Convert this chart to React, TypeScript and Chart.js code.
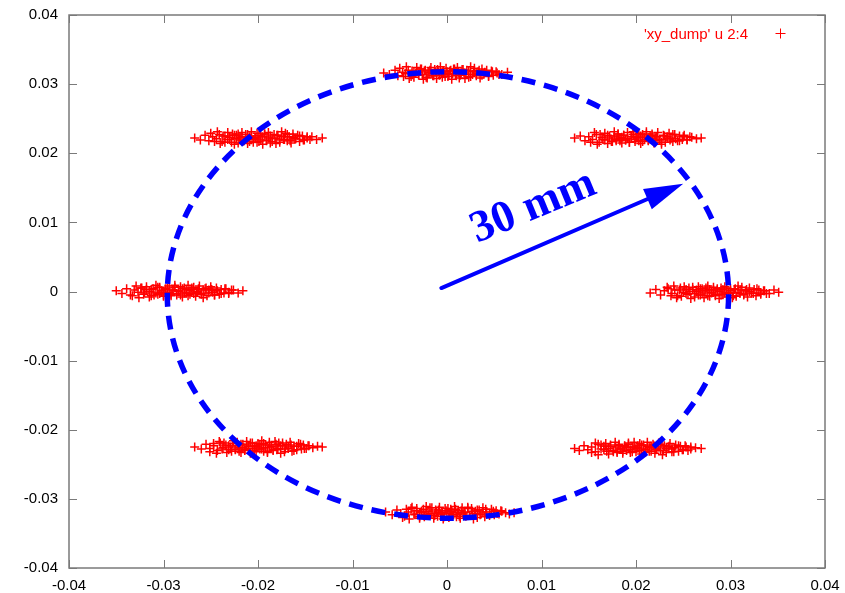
import React, { useEffect, useRef } from 'react';
import { Chart, registerables } from 'chart.js';

Chart.register(...registerables);

// ---- data (metres) ----
const TOP_X = [-0.0067,-0.0061,-0.0055,-0.0052,-0.0047,-0.0044,-0.0041,-0.0038,-0.0035,-0.0033,-0.0030,-0.0028,-0.0026,-0.0024,-0.0022,-0.0020,-0.0018,-0.0016,-0.0014,-0.0012,-0.0010,-0.0008,-0.0006,-0.0004,-0.0002,0.0000,0.0002,0.0004,0.0006,0.0008,0.0010,0.0012,0.0014,0.0016,0.0018,0.0020,0.0023,0.0025,0.0028,0.0031,0.0034,0.0037,0.0040,0.0044,0.0048,0.0053,0.0058,0.0064];
const TOP_Y = [0.0316,0.0314,0.0320,0.0312,0.0317,0.0315,0.0320,0.0311,0.0318,0.0316,0.0313,0.0322,0.0314,0.0319,0.0310,0.0317,0.0320,0.0315,0.0312,0.0318,0.0321,0.0313,0.0316,0.0319,0.0311,0.0318,0.0314,0.0320,0.0315,0.0322,0.0312,0.0317,0.0313,0.0321,0.0316,0.0314,0.0319,0.0311,0.0318,0.0315,0.0320,0.0313,0.0317,0.0312,0.0318,0.0316,0.0314,0.0317];
const TOP_X2 = [-0.0050,-0.0046,-0.0043,-0.0040,-0.0037,-0.0035,-0.0032,-0.0030,-0.0027,-0.0025,-0.0023,-0.0021,-0.0019,-0.0017,-0.0015,-0.0013,-0.0011,-0.0009,-0.0007,-0.0005,-0.0003,-0.0001,0.0001,0.0003,0.0005,0.0007,0.0009,0.0011,0.0013,0.0015,0.0017,0.0019,0.0021,0.0023,0.0025,0.0027,0.0029,0.0031,0.0033,0.0035,0.0037,0.0039,0.0042,0.0044,0.0047,0.0049,0.0052,0.0055];
const TOP_Y2 = [0.0323,0.0311,0.0325,0.0308,0.0319,0.0310,0.0324,0.0314,0.0322,0.0307,0.0320,0.0309,0.0317,0.0324,0.0312,0.0321,0.0308,0.0318,0.0325,0.0310,0.0315,0.0323,0.0311,0.0319,0.0307,0.0322,0.0313,0.0324,0.0309,0.0316,0.0321,0.0308,0.0320,0.0310,0.0325,0.0314,0.0323,0.0312,0.0318,0.0309,0.0322,0.0315,0.0320,0.0311,0.0319,0.0313,0.0318,0.0314];

const BOTTOM_X = [-0.0065,-0.0058,-0.0053,-0.0049,-0.0045,-0.0041,-0.0038,-0.0035,-0.0032,-0.0029,-0.0027,-0.0025,-0.0022,-0.0020,-0.0018,-0.0016,-0.0013,-0.0011,-0.0009,-0.0007,-0.0005,-0.0003,-0.0001,0.0001,0.0003,0.0005,0.0007,0.0009,0.0011,0.0013,0.0015,0.0017,0.0019,0.0022,0.0024,0.0027,0.0029,0.0032,0.0035,0.0038,0.0041,0.0045,0.0049,0.0053,0.0057,0.0062,0.0066,0.0071];
const BOTTOM_Y = [-0.0319,-0.0323,-0.0316,-0.0321,-0.0325,-0.0319,-0.0314,-0.0322,-0.0317,-0.0326,-0.0320,-0.0315,-0.0323,-0.0318,-0.0321,-0.0313,-0.0324,-0.0319,-0.0316,-0.0322,-0.0320,-0.0326,-0.0317,-0.0314,-0.0321,-0.0318,-0.0323,-0.0315,-0.0320,-0.0325,-0.0317,-0.0322,-0.0319,-0.0314,-0.0324,-0.0318,-0.0321,-0.0316,-0.0323,-0.0319,-0.0315,-0.0322,-0.0318,-0.0321,-0.0317,-0.0320,-0.0322,-0.0320];
const BOTTOM_X2 = [-0.0047,-0.0043,-0.0040,-0.0037,-0.0034,-0.0032,-0.0029,-0.0027,-0.0024,-0.0022,-0.0020,-0.0018,-0.0016,-0.0014,-0.0012,-0.0010,-0.0008,-0.0006,-0.0004,-0.0002,0.0000,0.0002,0.0004,0.0006,0.0008,0.0010,0.0012,0.0014,0.0016,0.0018,0.0020,0.0022,0.0024,0.0026,0.0028,0.0030,0.0032,0.0034,0.0036,0.0038,0.0040,0.0042,0.0045,0.0047,0.0050,0.0052,0.0055,0.0058];
const BOTTOM_Y2 = [-0.0327,-0.0315,-0.0329,-0.0312,-0.0323,-0.0314,-0.0328,-0.0318,-0.0326,-0.0311,-0.0324,-0.0313,-0.0321,-0.0328,-0.0316,-0.0325,-0.0312,-0.0322,-0.0329,-0.0314,-0.0319,-0.0327,-0.0315,-0.0323,-0.0311,-0.0326,-0.0317,-0.0328,-0.0313,-0.0320,-0.0325,-0.0312,-0.0324,-0.0314,-0.0329,-0.0318,-0.0327,-0.0316,-0.0322,-0.0313,-0.0326,-0.0319,-0.0324,-0.0315,-0.0323,-0.0317,-0.0322,-0.0318];

const LEFT_X = [-0.0350,-0.0344,-0.0339,-0.0335,-0.0331,-0.0327,-0.0324,-0.0321,-0.0318,-0.0315,-0.0313,-0.0311,-0.0308,-0.0306,-0.0304,-0.0302,-0.0300,-0.0298,-0.0296,-0.0294,-0.0292,-0.0290,-0.0288,-0.0286,-0.0284,-0.0282,-0.0280,-0.0278,-0.0276,-0.0274,-0.0272,-0.0270,-0.0268,-0.0265,-0.0263,-0.0260,-0.0258,-0.0255,-0.0252,-0.0249,-0.0246,-0.0243,-0.0239,-0.0235,-0.0231,-0.0226,-0.0221,-0.0216];
const LEFT_Y = [0.0001,-0.0003,0.0004,-0.0005,0.0002,-0.0001,0.0005,-0.0004,0.0003,0.0000,-0.0006,0.0004,-0.0002,0.0006,-0.0003,0.0001,-0.0005,0.0003,0.0005,-0.0001,-0.0004,0.0002,0.0006,-0.0003,0.0000,-0.0005,0.0004,-0.0002,0.0003,-0.0006,0.0001,0.0005,-0.0003,-0.0001,0.0004,-0.0004,0.0002,0.0005,-0.0002,0.0003,-0.0005,0.0001,-0.0003,0.0004,-0.0001,0.0002,-0.0002,0.0001];
const LEFT_X2 = [-0.0333,-0.0329,-0.0326,-0.0323,-0.0320,-0.0318,-0.0315,-0.0313,-0.0310,-0.0308,-0.0306,-0.0304,-0.0302,-0.0300,-0.0298,-0.0296,-0.0294,-0.0292,-0.0290,-0.0288,-0.0286,-0.0284,-0.0282,-0.0280,-0.0278,-0.0276,-0.0274,-0.0272,-0.0270,-0.0268,-0.0266,-0.0264,-0.0262,-0.0260,-0.0258,-0.0256,-0.0254,-0.0252,-0.0250,-0.0248,-0.0246,-0.0244,-0.0241,-0.0239,-0.0236,-0.0234,-0.0231,-0.0228];
const LEFT_Y2 = [-0.0006,0.0008,-0.0009,0.0005,-0.0002,0.0007,-0.0008,0.0003,-0.0005,0.0009,-0.0004,0.0006,-0.0001,-0.0007,0.0004,-0.0003,0.0008,-0.0006,0.0002,0.0009,-0.0005,0.0001,0.0007,-0.0008,0.0005,-0.0002,0.0009,-0.0004,0.0003,0.0006,-0.0007,0.0000,0.0008,-0.0003,-0.0009,0.0004,-0.0006,0.0002,0.0007,-0.0001,-0.0005,0.0005,-0.0004,0.0003,-0.0002,0.0004,-0.0003,0.0002];

const RIGHT_X = [0.0215,0.0221,0.0226,0.0230,0.0234,0.0238,0.0241,0.0244,0.0247,0.0250,0.0253,0.0255,0.0257,0.0260,0.0262,0.0264,0.0266,0.0268,0.0270,0.0272,0.0274,0.0276,0.0278,0.0280,0.0282,0.0284,0.0286,0.0288,0.0290,0.0292,0.0294,0.0296,0.0298,0.0300,0.0303,0.0305,0.0308,0.0311,0.0314,0.0317,0.0320,0.0324,0.0328,0.0332,0.0336,0.0341,0.0346,0.0351];
const RIGHT_Y = [-0.0002,0.0003,-0.0005,0.0001,0.0004,-0.0003,0.0002,-0.0006,0.0005,-0.0001,0.0003,-0.0004,0.0000,0.0006,-0.0003,0.0002,-0.0005,0.0004,-0.0002,0.0001,0.0005,-0.0006,0.0003,-0.0001,0.0002,-0.0004,0.0004,0.0000,-0.0005,0.0003,-0.0002,0.0005,-0.0003,0.0001,-0.0006,0.0004,-0.0001,0.0002,-0.0004,0.0003,0.0000,-0.0003,0.0004,-0.0002,0.0001,-0.0003,0.0002,-0.0001];
const RIGHT_X2 = [0.0233,0.0237,0.0240,0.0243,0.0246,0.0248,0.0251,0.0253,0.0256,0.0258,0.0260,0.0262,0.0264,0.0266,0.0268,0.0270,0.0272,0.0274,0.0276,0.0278,0.0280,0.0282,0.0284,0.0286,0.0288,0.0290,0.0292,0.0294,0.0296,0.0298,0.0300,0.0302,0.0304,0.0306,0.0308,0.0310,0.0312,0.0314,0.0316,0.0318,0.0320,0.0322,0.0325,0.0327,0.0330,0.0332,0.0335,0.0338];
const RIGHT_Y2 = [0.0006,-0.0006,0.0008,-0.0009,0.0002,-0.0007,0.0007,-0.0003,0.0005,-0.0010,0.0003,-0.0008,0.0000,0.0007,-0.0005,0.0004,-0.0009,0.0001,0.0008,-0.0007,-0.0002,0.0006,-0.0006,0.0002,-0.0010,0.0005,-0.0004,0.0007,-0.0008,-0.0001,0.0004,-0.0009,0.0003,-0.0007,0.0008,-0.0003,0.0006,-0.0005,0.0001,-0.0008,0.0005,-0.0002,0.0003,-0.0006,0.0002,-0.0004,0.0001,-0.0003];

const TOP_LEFT_X = [-0.0267,-0.0261,-0.0256,-0.0252,-0.0248,-0.0244,-0.0241,-0.0238,-0.0235,-0.0232,-0.0230,-0.0228,-0.0225,-0.0223,-0.0221,-0.0219,-0.0217,-0.0215,-0.0213,-0.0211,-0.0209,-0.0207,-0.0205,-0.0203,-0.0201,-0.0199,-0.0197,-0.0195,-0.0193,-0.0191,-0.0189,-0.0187,-0.0185,-0.0182,-0.0180,-0.0177,-0.0175,-0.0172,-0.0169,-0.0166,-0.0163,-0.0160,-0.0156,-0.0152,-0.0148,-0.0143,-0.0138,-0.0132];
const TOP_LEFT_Y = [0.0222,0.0219,0.0226,0.0218,0.0224,0.0221,0.0227,0.0217,0.0225,0.0220,0.0223,0.0216,0.0226,0.0221,0.0228,0.0219,0.0224,0.0218,0.0222,0.0227,0.0217,0.0225,0.0220,0.0223,0.0216,0.0226,0.0219,0.0224,0.0228,0.0218,0.0222,0.0225,0.0217,0.0221,0.0226,0.0219,0.0224,0.0220,0.0227,0.0218,0.0223,0.0221,0.0225,0.0219,0.0222,0.0224,0.0220,0.0222];
const TOP_LEFT_X2 = [-0.0250,-0.0246,-0.0243,-0.0240,-0.0237,-0.0235,-0.0232,-0.0230,-0.0227,-0.0225,-0.0223,-0.0221,-0.0219,-0.0217,-0.0215,-0.0213,-0.0211,-0.0209,-0.0207,-0.0205,-0.0203,-0.0201,-0.0199,-0.0197,-0.0195,-0.0193,-0.0191,-0.0189,-0.0187,-0.0185,-0.0183,-0.0181,-0.0179,-0.0177,-0.0175,-0.0173,-0.0171,-0.0169,-0.0167,-0.0165,-0.0163,-0.0161,-0.0158,-0.0156,-0.0153,-0.0151,-0.0148,-0.0145];
const TOP_LEFT_Y2 = [0.0229,0.0217,0.0231,0.0214,0.0225,0.0216,0.0230,0.0220,0.0228,0.0213,0.0226,0.0215,0.0223,0.0230,0.0218,0.0227,0.0214,0.0224,0.0231,0.0216,0.0221,0.0229,0.0217,0.0225,0.0213,0.0228,0.0219,0.0230,0.0215,0.0222,0.0227,0.0214,0.0226,0.0216,0.0231,0.0220,0.0229,0.0218,0.0224,0.0215,0.0228,0.0221,0.0226,0.0217,0.0225,0.0219,0.0224,0.0220];

const TOP_RIGHT_X = [0.0135,0.0141,0.0146,0.0150,0.0154,0.0158,0.0161,0.0164,0.0167,0.0170,0.0172,0.0174,0.0177,0.0179,0.0181,0.0183,0.0185,0.0187,0.0189,0.0191,0.0193,0.0195,0.0197,0.0199,0.0201,0.0203,0.0205,0.0207,0.0209,0.0211,0.0213,0.0215,0.0217,0.0220,0.0222,0.0225,0.0227,0.0230,0.0233,0.0236,0.0239,0.0242,0.0246,0.0250,0.0254,0.0259,0.0264,0.0269];
const TOP_RIGHT_Y = [0.0222,0.0225,0.0218,0.0224,0.0220,0.0227,0.0216,0.0223,0.0219,0.0226,0.0222,0.0217,0.0225,0.0220,0.0228,0.0218,0.0223,0.0226,0.0219,0.0221,0.0216,0.0224,0.0227,0.0220,0.0222,0.0218,0.0225,0.0217,0.0223,0.0228,0.0219,0.0221,0.0226,0.0218,0.0224,0.0220,0.0216,0.0225,0.0222,0.0219,0.0227,0.0221,0.0218,0.0224,0.0220,0.0223,0.0221,0.0222];
const TOP_RIGHT_X2 = [0.0152,0.0156,0.0159,0.0162,0.0165,0.0167,0.0170,0.0172,0.0175,0.0177,0.0179,0.0181,0.0183,0.0185,0.0187,0.0189,0.0191,0.0193,0.0195,0.0197,0.0199,0.0201,0.0203,0.0205,0.0207,0.0209,0.0211,0.0213,0.0215,0.0217,0.0219,0.0221,0.0223,0.0225,0.0227,0.0229,0.0231,0.0233,0.0235,0.0237,0.0239,0.0241,0.0244,0.0246,0.0249,0.0251,0.0254,0.0257];
const TOP_RIGHT_Y2 = [0.0216,0.0230,0.0213,0.0227,0.0220,0.0229,0.0214,0.0225,0.0217,0.0231,0.0218,0.0228,0.0221,0.0215,0.0226,0.0219,0.0230,0.0216,0.0224,0.0231,0.0217,0.0223,0.0229,0.0214,0.0227,0.0220,0.0231,0.0218,0.0225,0.0228,0.0215,0.0222,0.0230,0.0219,0.0213,0.0226,0.0216,0.0224,0.0229,0.0221,0.0217,0.0227,0.0218,0.0225,0.0220,0.0226,0.0219,0.0224];

const BOTTOM_LEFT_X = [-0.0267,-0.0260,-0.0255,-0.0251,-0.0247,-0.0243,-0.0240,-0.0237,-0.0234,-0.0231,-0.0229,-0.0227,-0.0224,-0.0222,-0.0220,-0.0218,-0.0216,-0.0214,-0.0212,-0.0210,-0.0208,-0.0206,-0.0204,-0.0202,-0.0200,-0.0198,-0.0196,-0.0194,-0.0192,-0.0190,-0.0188,-0.0186,-0.0184,-0.0181,-0.0179,-0.0176,-0.0174,-0.0171,-0.0168,-0.0165,-0.0162,-0.0159,-0.0155,-0.0151,-0.0147,-0.0142,-0.0137,-0.0132];
const BOTTOM_LEFT_Y = [-0.0225,-0.0228,-0.0221,-0.0227,-0.0223,-0.0230,-0.0219,-0.0226,-0.0222,-0.0229,-0.0225,-0.0220,-0.0228,-0.0223,-0.0231,-0.0221,-0.0226,-0.0229,-0.0222,-0.0224,-0.0219,-0.0227,-0.0230,-0.0223,-0.0225,-0.0221,-0.0228,-0.0220,-0.0226,-0.0231,-0.0222,-0.0224,-0.0229,-0.0221,-0.0227,-0.0223,-0.0219,-0.0228,-0.0225,-0.0222,-0.0230,-0.0224,-0.0221,-0.0227,-0.0223,-0.0226,-0.0224,-0.0225];
const BOTTOM_LEFT_X2 = [-0.0251,-0.0247,-0.0244,-0.0241,-0.0238,-0.0236,-0.0233,-0.0231,-0.0228,-0.0226,-0.0224,-0.0222,-0.0220,-0.0218,-0.0216,-0.0214,-0.0212,-0.0210,-0.0208,-0.0206,-0.0204,-0.0202,-0.0200,-0.0198,-0.0196,-0.0194,-0.0192,-0.0190,-0.0188,-0.0186,-0.0184,-0.0182,-0.0180,-0.0178,-0.0176,-0.0174,-0.0172,-0.0170,-0.0168,-0.0166,-0.0164,-0.0162,-0.0159,-0.0157,-0.0154,-0.0152,-0.0149,-0.0146];
const BOTTOM_LEFT_Y2 = [-0.0232,-0.0220,-0.0234,-0.0217,-0.0228,-0.0219,-0.0233,-0.0223,-0.0231,-0.0216,-0.0229,-0.0218,-0.0226,-0.0233,-0.0221,-0.0230,-0.0217,-0.0227,-0.0234,-0.0219,-0.0224,-0.0232,-0.0220,-0.0228,-0.0216,-0.0231,-0.0222,-0.0233,-0.0218,-0.0225,-0.0230,-0.0217,-0.0229,-0.0219,-0.0234,-0.0223,-0.0232,-0.0221,-0.0227,-0.0218,-0.0231,-0.0224,-0.0229,-0.0220,-0.0228,-0.0222,-0.0227,-0.0223];

const BOTTOM_RIGHT_X = [0.0135,0.0140,0.0145,0.0149,0.0153,0.0157,0.0160,0.0163,0.0166,0.0169,0.0171,0.0173,0.0176,0.0178,0.0180,0.0182,0.0184,0.0186,0.0188,0.0190,0.0192,0.0194,0.0196,0.0198,0.0200,0.0202,0.0204,0.0206,0.0208,0.0210,0.0212,0.0214,0.0216,0.0219,0.0221,0.0224,0.0226,0.0229,0.0232,0.0235,0.0238,0.0241,0.0245,0.0249,0.0253,0.0258,0.0263,0.0269];
const BOTTOM_RIGHT_Y = [-0.0227,-0.0230,-0.0223,-0.0229,-0.0225,-0.0232,-0.0221,-0.0228,-0.0224,-0.0231,-0.0227,-0.0222,-0.0230,-0.0225,-0.0233,-0.0223,-0.0228,-0.0231,-0.0224,-0.0226,-0.0221,-0.0229,-0.0232,-0.0225,-0.0227,-0.0223,-0.0230,-0.0222,-0.0228,-0.0233,-0.0224,-0.0226,-0.0231,-0.0223,-0.0229,-0.0225,-0.0221,-0.0230,-0.0227,-0.0224,-0.0232,-0.0226,-0.0223,-0.0229,-0.0225,-0.0228,-0.0226,-0.0227];
const BOTTOM_RIGHT_X2 = [0.0153,0.0157,0.0160,0.0163,0.0166,0.0168,0.0171,0.0173,0.0176,0.0178,0.0180,0.0182,0.0184,0.0186,0.0188,0.0190,0.0192,0.0194,0.0196,0.0198,0.0200,0.0202,0.0204,0.0206,0.0208,0.0210,0.0212,0.0214,0.0216,0.0218,0.0220,0.0222,0.0224,0.0226,0.0228,0.0230,0.0232,0.0234,0.0236,0.0238,0.0240,0.0242,0.0245,0.0247,0.0250,0.0252,0.0255,0.0258];
const BOTTOM_RIGHT_Y2 = [-0.0233,-0.0219,-0.0236,-0.0222,-0.0229,-0.0220,-0.0235,-0.0224,-0.0232,-0.0218,-0.0231,-0.0221,-0.0228,-0.0234,-0.0223,-0.0230,-0.0219,-0.0233,-0.0225,-0.0218,-0.0232,-0.0226,-0.0220,-0.0235,-0.0222,-0.0229,-0.0218,-0.0231,-0.0224,-0.0221,-0.0234,-0.0227,-0.0219,-0.0230,-0.0236,-0.0223,-0.0233,-0.0225,-0.0220,-0.0228,-0.0232,-0.0222,-0.0231,-0.0224,-0.0229,-0.0223,-0.0230,-0.0225];

const X_TICK_LABELS = ['-0.04', '-0.03', '-0.02', '-0.01', '0', '0.01', '0.02', '0.03', '0.04'];
const Y_TICK_LABELS = ['-0.04', '-0.03', '-0.02', '-0.01', '0', '0.01', '0.02', '0.03', '0.04'];
const AXIS_MIN = -0.04;
const AXIS_MAX = 0.04;
const AXIS_STEP = 0.01;

const SERIES_LABEL = "'xy_dump' u 2:4";
const CIRCLE_CENTER = [0.0001, -0.0005];
const CIRCLE_RADII = [0.0297, 0.0323];
const ARROW_FROM = [-0.0006, 0.0005];
const ARROW_TO = [0.0250, 0.0156];
const ARROW_LABEL = '30 mm';
const ARROW_LABEL_AT = [0.0032, 0.0070];

const CLUSTERS: [number[], number[]][] = [
  [TOP_X, TOP_Y], [TOP_X2, TOP_Y2],
  [BOTTOM_X, BOTTOM_Y], [BOTTOM_X2, BOTTOM_Y2],
  [LEFT_X, LEFT_Y], [LEFT_X2, LEFT_Y2],
  [RIGHT_X, RIGHT_Y], [RIGHT_X2, RIGHT_Y2],
  [TOP_LEFT_X, TOP_LEFT_Y], [TOP_LEFT_X2, TOP_LEFT_Y2],
  [TOP_RIGHT_X, TOP_RIGHT_Y], [TOP_RIGHT_X2, TOP_RIGHT_Y2],
  [BOTTOM_LEFT_X, BOTTOM_LEFT_Y], [BOTTOM_LEFT_X2, BOTTOM_LEFT_Y2],
  [BOTTOM_RIGHT_X, BOTTOM_RIGHT_Y], [BOTTOM_RIGHT_X2, BOTTOM_RIGHT_Y2],
];

const RED = '#ff0000';
const BLUE = '#0000ff';
const FRAME = '#7a7a7a';
const SANS = '"Liberation Sans", Arial, Helvetica, sans-serif';

const overlayPlugin = {
  id: 'gnuplotOverlay',
  beforeDatasetsDraw(chart: any) {
    const { ctx, chartArea: a, scales } = chart;
    const xs = scales.x, ys = scales.y;
    ctx.save();
    ctx.strokeStyle = FRAME;
    ctx.lineWidth = 1;
    ctx.beginPath();
    xs.ticks.forEach((t: any) => {
      const px = Math.round(xs.getPixelForValue(t.value)) + 0.5;
      ctx.moveTo(px, a.bottom); ctx.lineTo(px, a.bottom - 8);
      ctx.moveTo(px, a.top); ctx.lineTo(px, a.top + 8);
    });
    ys.ticks.forEach((t: any) => {
      const py = Math.round(ys.getPixelForValue(t.value)) + 0.5;
      ctx.moveTo(a.left, py); ctx.lineTo(a.left + 8, py);
      ctx.moveTo(a.right, py); ctx.lineTo(a.right - 8, py);
    });
    ctx.stroke();
    ctx.lineWidth = 1.5;
    ctx.strokeRect(a.left, a.top, a.right - a.left, a.bottom - a.top);
    ctx.restore();
  },
  afterDatasetsDraw(chart: any) {
    const { ctx, chartArea: a, scales } = chart;
    const xs = scales.x, ys = scales.y;
    ctx.save();
    // dashed circle
    const cx = xs.getPixelForValue(CIRCLE_CENTER[0]);
    const cy = ys.getPixelForValue(CIRCLE_CENTER[1]);
    const rx = xs.getPixelForValue(CIRCLE_CENTER[0] + CIRCLE_RADII[0]) - cx;
    const ry = cy - ys.getPixelForValue(CIRCLE_CENTER[1] + CIRCLE_RADII[1]);
    ctx.strokeStyle = BLUE;
    ctx.lineWidth = 5.5;
    ctx.setLineDash([14, 9]);
    ctx.beginPath();
    ctx.ellipse(cx, cy, rx, ry, 0, 0, Math.PI * 2);
    ctx.stroke();
    ctx.setLineDash([]);
    // arrow
    const x0 = xs.getPixelForValue(ARROW_FROM[0]);
    const y0 = ys.getPixelForValue(ARROW_FROM[1]);
    const x1 = xs.getPixelForValue(ARROW_TO[0]);
    const y1 = ys.getPixelForValue(ARROW_TO[1]);
    const len = Math.hypot(x1 - x0, y1 - y0);
    const ux = (x1 - x0) / len, uy = (y1 - y0) / len;
    const headLen = 39, headHalf = 11;
    const bx = x1 - ux * headLen, by = y1 - uy * headLen;
    ctx.lineWidth = 4;
    ctx.lineCap = 'round';
    ctx.beginPath();
    ctx.moveTo(x0, y0);
    ctx.lineTo(bx + ux * 4, by + uy * 4);
    ctx.stroke();
    ctx.fillStyle = BLUE;
    ctx.beginPath();
    ctx.moveTo(x1, y1);
    ctx.lineTo(bx - uy * headHalf, by + ux * headHalf);
    ctx.lineTo(bx + uy * headHalf, by - ux * headHalf);
    ctx.closePath();
    ctx.fill();
    // arrow label
    const tx = xs.getPixelForValue(ARROW_LABEL_AT[0]);
    const ty = ys.getPixelForValue(ARROW_LABEL_AT[1]);
    ctx.translate(tx, ty);
    ctx.rotate(-22.5 * Math.PI / 180);
    ctx.font = 'bold 45px "Liberation Serif", "Times New Roman", serif';
    ctx.textAlign = 'left';
    ctx.textBaseline = 'alphabetic';
    ctx.fillText(ARROW_LABEL, 0, 0);
    ctx.restore();

    // key
    ctx.save();
    const label = chart.data.datasets[0].label;
    const keyY = a.top + 18;
    ctx.font = '15px ' + SANS;
    ctx.fillStyle = RED;
    ctx.textAlign = 'right';
    ctx.textBaseline = 'middle';
    ctx.fillText(label, a.right - 77, keyY + 1.5);
    ctx.strokeStyle = RED;
    ctx.lineWidth = 1;
    const mx = Math.round(a.right - 45);
    const my = Math.round(keyY);
    ctx.beginPath();
    ctx.moveTo(mx - 4.5, my + 0.5); ctx.lineTo(mx + 5.5, my + 0.5);
    ctx.moveTo(mx + 0.5, my - 4.5); ctx.lineTo(mx + 0.5, my + 5.5);
    ctx.stroke();
    ctx.restore();
  },
};

export default function App() {
  const ref = useRef<HTMLCanvasElement | null>(null);
  useEffect(() => {
    if (!ref.current) return;
    const points = CLUSTERS.flatMap(([xs, ys]) => xs.map((x, i) => ({ x, y: ys[i] })));
    const chart = new Chart(ref.current, {
      type: 'scatter',
      data: {
        datasets: [{
          label: SERIES_LABEL,
          data: points,
          pointStyle: 'cross',
          pointRadius: 4.5,
          pointBorderWidth: 1.5,
          borderColor: RED,
          backgroundColor: RED,
          pointBorderColor: RED,
          pointBackgroundColor: RED,
        }],
      },
      options: {
        responsive: false,
        animation: false,
        events: [],
        layout: { padding: { top: 15, right: 20, left: 0, bottom: 0 } },
        plugins: { legend: { display: false }, tooltip: { enabled: false } },
        scales: {
          x: {
            type: 'linear', min: AXIS_MIN, max: AXIS_MAX,
            grid: { display: false, drawTicks: false },
            border: { display: false },
            ticks: {
              stepSize: AXIS_STEP, autoSkip: false, maxRotation: 0, padding: 9,
              color: '#000', font: { family: SANS, size: 15 },
              callback: (_v: any, i: number) => X_TICK_LABELS[i],
            },
            afterFit: (s: any) => { s.height = 25; s.paddingLeft = 0; s.paddingRight = 0; },
          },
          y: {
            type: 'linear', min: AXIS_MIN, max: AXIS_MAX,
            grid: { display: false, drawTicks: false },
            border: { display: false },
            ticks: {
              stepSize: AXIS_STEP, autoSkip: false, padding: 11,
              color: '#000', font: { family: SANS, size: 15 },
              callback: (_v: any, i: number) => Y_TICK_LABELS[i],
            },
            afterFit: (s: any) => { s.width = 69; s.paddingTop = 0; s.paddingBottom = 0; },
          },
        },
      },
      plugins: [overlayPlugin],
    });
    return () => chart.destroy();
  }, []);
  return (
    <div style={{ position: 'fixed', left: 0, top: 0, width: 845, height: 593, background: '#fff' }}>
      <canvas ref={ref} width={845} height={593} style={{ display: 'block' }} />
    </div>
  );
}
